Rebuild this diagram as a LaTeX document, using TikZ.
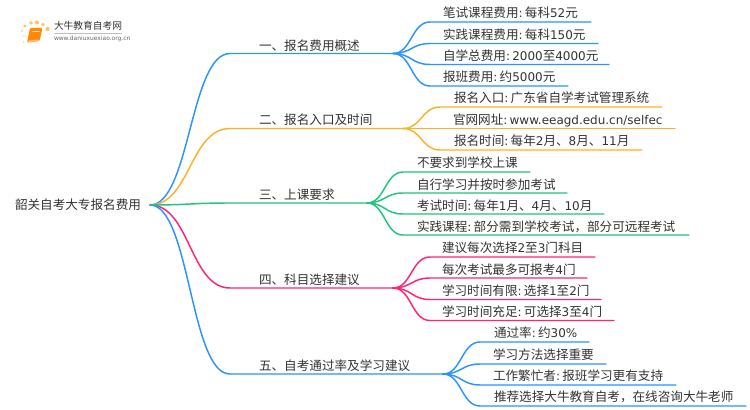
\documentclass[tikz,border=0pt]{standalone}
\usepackage{fontspec}
\usetikzlibrary{calc}
\setmainfont{Noto Sans CJK SC}
\newfontfamily\latinf[Scale=0.95]{DejaVu Sans}
\newcommand{\lt}[1]{{\latinf #1}}
\newcommand{\cl}{{\latinf :}\hspace{1.7pt}}
\definecolor{cblue}{HTML}{2A94FF}
\definecolor{corange}{HTML}{FFB125}
\definecolor{cgreen}{HTML}{1FC67E}
\definecolor{cpink}{HTML}{FF2478}
\definecolor{ctext}{HTML}{333333}
\tikzset{
  txt/.style={anchor=west,inner sep=0pt,outer sep=0pt,text=ctext,font=\fontsize{9.45pt}{11pt}\selectfont},
  conn/.style={line width=1.1pt,line cap=round},
}
% horizontal S-link from one named coordinate to another
\newcommand{\slink}[3]{%
  \draw[conn,#1] (#2) .. controls ($(#2)!0.5!(#3 |- #2)$) and ($(#3)!0.5!(#2 |- #3)$) .. (#3) -- (#3e);
}
% name, colour, hub, x flat, y, x end, text x, text y, text
\newcommand{\leaf}[9]{%
  \coordinate (#1) at (#4,#5);
  \coordinate (#1e) at (#6,#5);
  \node[txt] (#1t) at (#7,#8) {#9};
  \slink{#2}{#3}{#1}
}
\newcommand{\branch}[6]{% name, colour, y, x hub, text y, text
  \coordinate (#1s) at (230,#3);
  \coordinate (#1se) at (#4,#3);
  \coordinate (#1) at (#4,#3);
  \node[txt] (#1t) at (259,#5) {#6};
  \slink{#2}{root}{#1s}
}
\begin{document}
\begin{tikzpicture}[x=0.75pt,y=-0.75pt]
\useasboundingbox (0,0) rectangle (750,410);
\fill[white] (0,0) rectangle (750,410);
% logo
\foreach \a/\b/\r in {25/26/1.6,31/23/1.9,37/22.5/2,43/24.5/1.9,47.5/29/2.2}
  \fill[corange!75] (\a,\b) circle (\r);
\foreach \a/\b/\r in {22/31/1.3,24/36/1.1,23.5/42/1}
  \fill[corange!40] (\a,\b) circle (\r);
\fill[rounded corners=0.8pt,orange!90!yellow] (30,28) -- (42.5,28) -- (39.5,41) -- (27,42.5) -- cycle;
\fill[orange!55!white] (28,40.5) -- (39,39.5) -- (39,41) -- (27,42.5) -- cycle;
\draw[white!70!orange,line width=0.4pt] (32,31) -- (40,31);
\node[txt,font=\fontsize{7.3pt}{8pt}\selectfont] (logot) at (54,26) {大牛教育自考网};
\draw[black!25,line width=0.4pt] (54,33) -- (122,33);
\node[txt,text=black!60,font=\fontsize{4.7pt}{5pt}\selectfont\latinf] (logou) at (54,38.5) {www.daniuxuexiao.org.cn};
% root
\node[txt] (roott) at (15,205) {韶关自考大专报名费用};
\coordinate (root) at (150,205);
% branches
\branch{bone}{cblue}{53.5}{393}{46}{一、报名费用概述}
\branch{btwo}{corange}{128.5}{403}{120}{二、报名入口及时间}
\branch{bfour}{cpink}{288}{393}{280}{四、科目选择建议}
\branch{bfive}{cblue}{374}{443}{366}{五、自考通过率及学习建议}
\branch{bthree}{cgreen}{203}{367}{195}{三、上课要求}
% group 1
\leaf{aa}{cblue}{bone}{430}{22}{591}{443}{13}{笔试课程费用\cl 每科\lt{52}元}
\leaf{ab}{cblue}{bone}{430}{43.5}{598}{443}{34.5}{实践课程费用\cl 每科\lt{150}元}
\leaf{ac}{cblue}{bone}{430}{64.5}{609}{443}{56}{自学总费用\cl\lt{2000}至\lt{4000}元}
\leaf{ad}{cblue}{bone}{430}{86}{568}{443}{77}{报班费用\cl 约\lt{5000}元}
% group 2
\leaf{ba}{corange}{btwo}{440}{107}{662}{454}{98}{报名入口\cl 广东省自学考试管理系统}
\leaf{bb}{corange}{btwo}{440}{128.5}{675}{453}{120}{官网网址\cl\lt{www.eeagd.edu.cn/selfec}}
\leaf{bc}{corange}{btwo}{440}{150}{642}{454}{141}{报名时间\cl 每年\lt{2}月、\lt{8}月、\lt{11}月}
% group 3
\leaf{ca}{cgreen}{bthree}{403}{172}{530}{417}{163}{不要求到学校上课}
\leaf{cb}{cgreen}{bthree}{403}{193}{567}{417}{184.5}{自行学习并按时参加考试}
\leaf{cc}{cgreen}{bthree}{403}{214}{604}{417}{205.5}{考试时间\cl 每年\lt{1}月、\lt{4}月、\lt{10}月}
\leaf{cd}{cgreen}{bthree}{403}{235}{689}{417}{227}{实践课程\cl 部分需到学校考试，部分可远程考试}
% group 4
\leaf{da}{cpink}{bfour}{430}{257}{595}{442}{248}{建议每次选择\lt{2}至\lt{3}门科目}
\leaf{db}{cpink}{bfour}{430}{278}{587}{442}{269.5}{每次考试最多可报考\lt{4}门}
\leaf{dc}{cpink}{bfour}{430}{299.5}{601}{442}{291}{学习时间有限\cl 选择\lt{1}至\lt{2}门}
\leaf{dd}{cpink}{bfour}{430}{320.5}{614}{442}{312}{学习时间充足\cl 可选择\lt{3}至\lt{4}门}
% group 5
\leaf{ea}{cblue}{bfive}{480}{342}{589}{494}{333}{通过率\cl 约\lt{30\%}}
\leaf{eb}{cblue}{bfive}{480}{364}{606}{493}{355}{学习方法选择重要}
\leaf{ec}{cblue}{bfive}{480}{385}{676}{493}{376}{工作繁忙者\cl 报班学习更有支持}
\leaf{ed}{cblue}{bfive}{480}{406}{746}{494}{397}{推荐选择大牛教育自考，在线咨询大牛老师}
\end{tikzpicture}
\end{document}
